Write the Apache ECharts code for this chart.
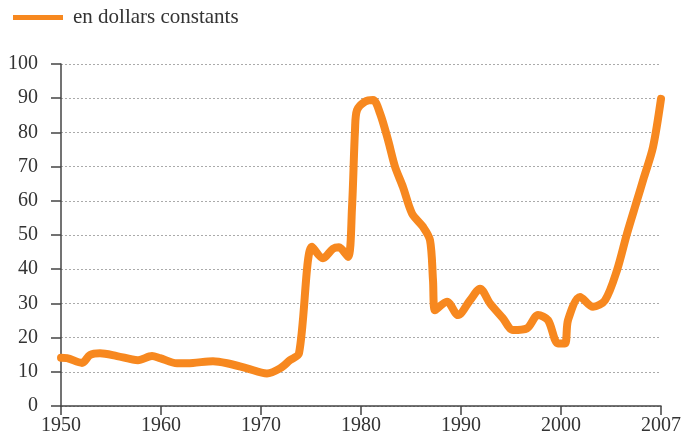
<!DOCTYPE html>
<html>
<head>
<meta charset="utf-8">
<script src="https://cdn.jsdelivr.net/npm/echarts@6/dist/echarts.min.js"></script>
<style>html,body{margin:0;padding:0;background:#fff}#c{width:686px;height:448px}</style>
</head>
<body>
<div id="c"></div>
<script>
// Position on the horizontal axis (axis units; the last labelled tick "2007" sits at 2010)
var years = [1950, 1950.6, 1952.1, 1952.9, 1953.9, 1955.6, 1957.7, 1959.1, 1959.9, 1961.6, 1963.2, 1965.2, 1966.6, 1968.6, 1970.6, 1971.9, 1972.9, 1973.8,
  1975.1, 1976.2, 1977.2, 1977.8, 1978.7, 1979.1, 1979.4, 1979.6, 1980.4, 1981.2, 1981.9, 1982.7, 1983.4, 1984.2, 1985.1, 1986.2, 1986.9, 1987.2, 1987.4,
  1988.6, 1989.7, 1990.9, 1991.9, 1992.9, 1994.2, 1995.2, 1996.6, 1997.7, 1998.7, 1999.7, 2000.4, 2000.7, 2001.9, 2003.2, 2004.4, 2005.6, 2006.6, 2007.6, 2008.3, 2009.2, 2010];
var values = [14.1, 14, 12.6, 14.9, 15.4, 14.6, 13.4, 14.6, 14, 12.5, 12.6, 13.1, 12.5, 11, 9.5, 11, 13.4, 15.4,
  46.6, 43.2, 46, 46.4, 43.6, 58, 80.7, 86.5, 89, 89.5, 85.6, 77.8, 70, 64, 56.3, 52.4, 48.5, 36.8, 28,
  30.5, 26.6, 30.9, 34.3, 30, 25.6, 22.2, 22.7, 26.6, 25.1, 18.3, 18.3, 25.1, 31.9, 29, 30.9, 39.7, 50.4, 60.1, 66.9, 75.7, 89.8];
var xTickLabels = ['1950', '1960', '1970', '1980', '1990', '2000', '2007'];
var seriesName = 'en dollars constants';

var data = years.map(function (y, i) { return [y, values[i]]; });
var chart = echarts.init(document.getElementById('c'));
var font = 'Liberation Serif, Times New Roman, serif';
chart.setOption({
  animation: false,
  backgroundColor: '#fff',
  legend: {
    left: 8, top: 2,
    itemWidth: 50, itemHeight: 14,
    icon: 'path://M0,0 L50,0 L50,5 L0,5 Z',
    itemStyle: { color: '#F7881F' },
    textStyle: { fontFamily: font, fontSize: 21, color: '#333', padding: [0, 0, 0, 5] },
    data: [seriesName]
  },
  grid: { left: 61, right: 25, top: 64, bottom: 42, outerBoundsMode: 'none' },
  xAxis: {
    type: 'value', min: 1950, max: 2010, interval: 10,
    axisLine: { lineStyle: { color: '#444', width: 1.5 } },
    axisTick: { show: true, length: 9, lineStyle: { color: '#444', width: 1.5 } },
    axisLabel: {
      fontFamily: font, fontSize: 20, color: '#333', margin: 10,
      formatter: function (v) { return xTickLabels[Math.round((v - 1950) / 10)]; }
    },
    splitLine: { show: false }
  },
  yAxis: {
    type: 'value', min: 0, max: 100, interval: 10,
    axisLine: { show: true, lineStyle: { color: '#444', width: 1.5 } },
    axisTick: { show: true, length: 10, lineStyle: { color: '#444', width: 1.5 } },
    axisLabel: { fontFamily: font, fontSize: 20, color: '#333', margin: 23 },
    splitLine: { show: true, lineStyle: { color: '#aaa', type: [2, 2], width: 1 } }
  },
  series: [{
    name: seriesName,
    type: 'line',
    data: data,
    smooth: 0.3,
    showSymbol: false,
    clip: false,
    lineStyle: { color: '#F7881F', width: 8, cap: 'round', join: 'round' },
    itemStyle: { color: '#F7881F' }
  }]
});
</script>
</body>
</html>
